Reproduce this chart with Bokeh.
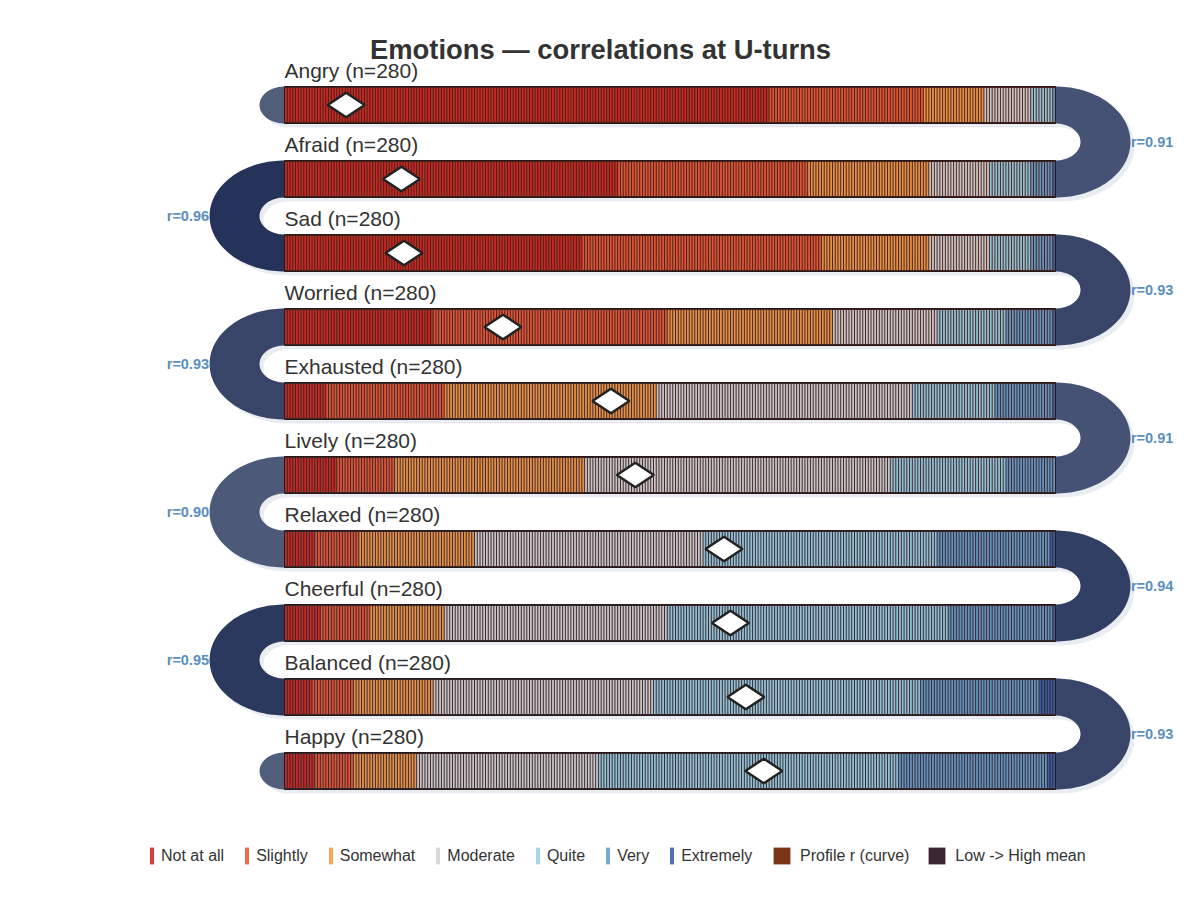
import numpy as np
from bokeh.plotting import figure
from bokeh.models import ColumnDataSource, Legend, LegendItem, Label
from bokeh.embed import file_html
from bokeh.resources import INLINE

# rows of the serpentine, top to bottom
emotions = ["Angry", "Afraid", "Sad", "Worried", "Exhausted",
            "Lively", "Relaxed", "Cheerful", "Balanced", "Happy"]
n_resp = 280

categories = ["Not at all", "Slightly", "Somewhat", "Moderate", "Quite", "Very", "Extremely"]
cat_colors = ["#d42a22", "#ee5a38", "#f79c4a", "#d8d4d4", "#9dd0e4", "#6a9fcc", "#3d62ad"]

# responses per category, one value per emotion (same order as emotions)
not_at_all = [176, 121, 108, 54, 15, 19, 11, 13, 10, 11]
slightly   = [56, 69, 87, 85, 43, 21, 16, 18, 15, 14]
somewhat   = [22, 44, 39, 60, 77, 69, 42, 27, 29, 23]
moderate   = [17, 22, 22, 38, 93, 111, 83, 81, 80, 66]
quite      = [8, 15, 15, 25, 30, 42, 85, 102, 97, 109]
very       = [1, 8, 8, 17, 21, 18, 41, 38, 43, 54]
extremely  = [0, 1, 1, 1, 1, 0, 2, 1, 6, 3]

# mean response (1..7) per emotion -> diamond
means = [1.48, 1.91, 1.93, 2.70, 3.54, 3.73, 4.42, 4.47, 4.59, 4.73]

# profile correlation between consecutive rows, shown at each U-turn
r_turns = [0.91, 0.96, 0.93, 0.93, 0.91, 0.90, 0.94, 0.95, 0.93]

# ---- layout ----
W, H = 1184, 880
PX_X = 771.0          # px per x unit (band length)
PX_Y = 37.0           # px per y unit (band height)
x0 = -284.0 / PX_X
x1 = x0 + W / PX_X
y1 = 104.5 / PX_Y
y0 = y1 - H / PX_Y
ASPECT = 1.35
RYO, RYI = 1.5, 0.5
RXO = RYO * PX_Y * ASPECT / PX_X
RXI = RYI * PX_Y * ASPECT / PX_X
SDX, SDY = 4 / PX_X, -4 / PX_Y
FONT = "Liberation Sans"


def hex2rgb(h):
    h = h.lstrip("#")
    return [int(h[i:i + 2], 16) for i in (0, 2, 4)]


def blend(c0, c1, t):
    t = min(max(t, 0.0), 1.0)
    a, b = hex2rgb(c0), hex2rgb(c1)
    return "#%02x%02x%02x" % tuple(int(round(a[i] + (b[i] - a[i]) * t)) for i in range(3))


def half_ring(cx, cy, side, rxo, ryo, rxi, ryi):
    t = np.linspace(-np.pi / 2, np.pi / 2, 80)
    xo = cx + side * rxo * np.cos(t)
    yo = cy + ryo * np.sin(t)
    if rxi == 0:
        return list(xo), list(yo)
    xi = cx + side * rxi * np.cos(t[::-1])
    yi = cy + ryi * np.sin(t[::-1])
    return list(np.r_[xo, xi]), list(np.r_[yo, yi])


p = figure(width=W, height=H, x_range=(x0, x1), y_range=(y0, y1),
           output_backend="svg", toolbar_location=None, min_border=0,
           x_axis_location=None, y_axis_location=None)
p.outline_line_color = None
p.grid.visible = False
p.background_fill_color = "white"

centers = [-2.0 * k for k in range(len(emotions))]

# ---- U-turns and end caps ----
arc_lo, arc_hi = "#4c5979", "#25325a"
r_lo, r_hi = min(r_turns), max(r_turns)
arc_xs, arc_ys, arc_cols, sh_xs, sh_ys = [], [], [], [], []
lab_x, lab_y, lab_t, lab_al = [], [], [], []
for k, r in enumerate(r_turns):
    side = 1 if k % 2 == 0 else -1
    cx = 1.0 if side == 1 else 0.0
    cy = centers[k] - 1.0
    xs, ys = half_ring(cx, cy, side, RXO, RYO, RXI, RYI)
    arc_xs.append(xs)
    arc_ys.append(ys)
    sh_xs.append([v + SDX for v in xs])
    sh_ys.append([v + SDY for v in ys])
    arc_cols.append(blend(arc_lo, arc_hi, (r - r_lo) / (r_hi - r_lo)))
    lab_x.append(cx + side * (RXO + 0.5 / PX_X))
    lab_y.append(cy)
    lab_t.append("r=%.2f" % r)
    lab_al.append("left" if side == 1 else "right")

for cy in (centers[0], centers[-1]):
    xs, ys = half_ring(0.0, cy, -1, RXI, RYI, 0, 0)
    arc_xs.append(xs)
    arc_ys.append(ys)
    sh_xs.append([v + SDX for v in xs])
    sh_ys.append([v + SDY for v in ys])
    arc_cols.append(blend(arc_lo, "#5a6580", 0.3))

# shadows
p.patches(sh_xs, sh_ys, fill_color="#e9ecf1", line_color=None)
p.rect(x=[0.5 + SDX] * len(centers), y=[c + SDY for c in centers], width=1.0, height=1.0,
       fill_color="#e9ecf1", line_color=None)

p.patches(arc_xs, arc_ys, fill_color=arc_cols, line_color=None)

# ---- band backgrounds (colour = mean) ----
m_lo, m_hi = min(means), max(means)
bg_cols = [blend("#44201a", "#33272f", (m - m_lo) / (m_hi - m_lo)) for m in means]
p.rect(x=[0.5] * len(centers), y=centers, width=1.0, height=1.0,
       fill_color=bg_cols, line_color="#2a1816", line_width=1)

# ---- response ticks ----
table = [not_at_all, slightly, somewhat, moderate, quite, very, extremely]
tick_data = {c: dict(x=[], top=[], bottom=[]) for c in categories}
for k, cy in enumerate(centers):
    i = 0
    for ci, cat in enumerate(categories):
        for _ in range(table[ci][k]):
            tick_data[cat]["x"].append((i + 0.5) / n_resp)
            tick_data[cat]["top"].append(cy + 0.46)
            tick_data[cat]["bottom"].append(cy - 0.46)
            i += 1

tick_renderers = []
for cat, col in zip(categories, cat_colors):
    src = ColumnDataSource(tick_data[cat])
    rr = p.vbar(x="x", top="top", bottom="bottom", width=0.66 / n_resp, source=src,
                fill_color=col, fill_alpha=0.9, line_color=None)
    tick_renderers.append(rr)

# ---- mean diamonds ----
p.scatter(x=[(m - 1) / 6.0 for m in means], y=centers, marker="diamond", angle=np.pi / 2,
          size=37, fill_color="white", line_color="#222222", line_width=2.5)

# ---- texts ----
p.text(x=[0.0] * len(emotions), y=[c + 0.92 for c in centers],
       text=["%s (n=%d)" % (e, n_resp) for e in emotions],
       text_font_size="21px", text_color="#333333", text_font={"value": FONT},
       text_baseline="middle", text_align="left")

p.text(x=lab_x, y=lab_y, text=lab_t, text_align=lab_al, text_baseline="middle",
       text_font_size="14.5px", text_font_style="bold", text_color="#5b8fbd",
       text_font={"value": FONT})

p.add_layout(Label(x=600, y=H - 49, x_units="screen", y_units="screen",
                   text="Emotions \u2014 correlations at U-turns", text_align="center",
                   text_baseline="middle", text_font_size="27.4px", text_font_style="bold",
                   text_color="#333333", text_font=FONT))

# ---- legends ----
leg_style = dict(orientation="horizontal", padding=0, margin=0, border_line_color=None,
                 background_fill_alpha=0, label_text_font=FONT, label_text_font_size="16px",
                 label_text_color="#333333")
leg1 = Legend(items=[LegendItem(label=c, renderers=[r]) for c, r in zip(categories, tick_renderers)],
              location=(149, 14), glyph_width=5, glyph_height=21, label_standoff=7,
              spacing=20, **leg_style)
nan = float("nan")
profile_r = p.rect(x=[nan], y=[nan], width=1, height=1, fill_color="#7b3515", line_color=None)
mean_key = p.rect(x=[nan], y=[nan], width=1, height=1, fill_color="#3a2530", line_color=None)
leg2 = Legend(items=[LegendItem(label="Profile r (curve)", renderers=[profile_r]),
                     LegendItem(label="Low -> High mean", renderers=[mean_key])],
              location=(771, 14), glyph_width=21, glyph_height=21, label_standoff=8,
              spacing=17, **leg_style)
p.add_layout(leg1)
p.add_layout(leg2)

open("out.html", "w").write(file_html(p, INLINE))
